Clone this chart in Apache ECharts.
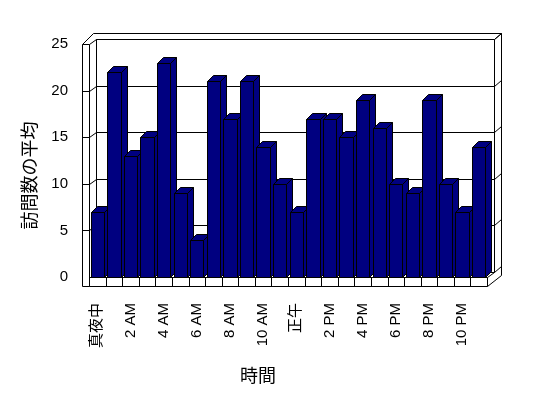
<!DOCTYPE html>
<html>
<head>
<meta charset="utf-8">
<script src="https://cdn.jsdelivr.net/npm/echarts@6/dist/echarts.min.js"></script>
<style>
  html, body { margin: 0; padding: 0; background: #fff; }
  #chart { width: 548px; height: 398px; }
</style>
</head>
<body>
<div id="chart"></div>
<script>
// data
const hours = ['真夜中', '1 AM', '2 AM', '3 AM', '4 AM', '5 AM', '6 AM', '7 AM', '8 AM', '9 AM', '10 AM', '11 AM',
  '正午', '1 PM', '2 PM', '3 PM', '4 PM', '5 PM', '6 PM', '7 PM', '8 PM', '9 PM', '10 PM', '11 PM'];
const visits = [7, 22, 13, 15, 23, 9, 4, 21, 17, 21, 14, 10, 7, 17, 17, 15, 19, 16, 10, 9, 19, 10, 7, 14];
const yTicks = [0, 5, 10, 15, 20, 25];

const FONT = '"Liberation Sans", "Noto Sans CJK JP", sans-serif';
const DX = 7, DY = -5;      // depth of the box (front -> back wall)
const BAR_D = 6;            // depth of each column
const WALL = 7, FLOOR = 9;  // thickness of side wall / floor slab

const chart = echarts.init(document.getElementById('chart'));

function px(v) { return Math.round(v) + 0.5; }
function line(x1, y1, x2, y2) {
  return { type: 'line', shape: { x1: px(x1), y1: px(y1), x2: px(x2), y2: px(y2) },
    style: { stroke: '#000', lineWidth: 1 } };
}
function poly(pts, fill) {
  return { type: 'polygon', shape: { points: pts.map(p => [px(p[0]), px(p[1])]) },
    style: { fill: fill || 'none', stroke: '#000', lineWidth: 1 } };
}

// walls, floor and gridlines
function renderFrame(params, api) {
  const cs = params.coordSys;
  const L = cs.x, T = cs.y, R = cs.x + cs.width, B = cs.y + cs.height;
  const band = api.size([1, 0])[0];
  const kids = [];
  // back wall
  kids.push(poly([[L + DX, T + DY], [R + DX, T + DY], [R + DX, B + DY], [L + DX, B + DY]], '#fff'));
  yTicks.forEach(v => {
    const y = api.coord([0, v])[1];
    if (v > 0 && v < 25) kids.push(line(L + DX, y + DY, R + DX, y + DY));
    kids.push(line(R + DX, y + DY, R + DX + 7, y + DY - 6));
    if (v > 0 && v < 25) {
      kids.push(line(L - WALL, y, L, y));
      kids.push(line(L, y, L + DX, y + DY));
    }
  });
  // outer edge of back wall
  kids.push({ type: 'polyline', shape: { points: [[L - WALL, T], [L + DX - 3, T + DY - 6], [R + DX + 7, T + DY - 6],
    [R + DX + 7, B + DY + 3], [R, B + FLOOR]].map(p => [px(p[0]), px(p[1])]) },
    style: { fill: 'none', stroke: '#000', lineWidth: 1 } });
  kids.push(line(R + DX, T + DY, R + DX + 7, T + DY - 6));
  // left wall
  kids.push(poly([[L - WALL, T], [L, T], [L, B + FLOOR], [L - WALL, B + FLOOR]]));
  kids.push(line(L, T, L + DX, T + DY));
  kids.push(line(L + DX, T + DY, L + DX, B + DY));
  // floor
  kids.push(poly([[L, B], [R, B], [R, B + FLOOR], [L, B + FLOOR]]));
  kids.push(line(R, B, R + DX, B + DY));
  for (let k = 1; k < hours.length; k++) {
    const x = api.coord([k, 0])[0] - band / 2;
    kids.push(line(x, B, x, B + FLOOR));
  }
  return { type: 'group', children: kids };
}

// 3D-looking columns
function renderBar(params, api) {
  const i = api.value(0), v = api.value(1);
  const top = api.coord([i, v]), base = api.coord([i, 0]);
  const half = api.size([1, 0])[0] * 0.4;
  const x0 = top[0] - half, x1 = top[0] + half, y0 = top[1], y1 = base[1];
  const d = BAR_D, fill = '#000080';
  return { type: 'group', children: [
    poly([[x1, y0], [x1 + d, y0 - d], [x1 + d, y1 - d], [x1, y1]], fill),
    poly([[x0, y0], [x0 + d, y0 - d], [x1 + d, y0 - d], [x1, y0]], fill),
    poly([[x0, y0], [x1, y0], [x1, y1], [x0, y1]], fill)
  ] };
}

const option = {
  backgroundColor: '#fff',
  animation: false,
  grid: { left: 89, right: 61, top: 44, bottom: 121 },
  xAxis: {
    type: 'category',
    data: hours,
    axisLine: { show: false },
    axisTick: { show: false },
    splitLine: { show: false },
    axisLabel: { interval: 1, rotate: 90, margin: 26, fontSize: 15, color: '#000', fontFamily: FONT },
    name: '時間',
    nameLocation: 'middle',
    nameGap: 91,
    nameTextStyle: { fontSize: 18, color: '#000', fontFamily: FONT, padding: [0, 60, 0, 0] }
  },
  yAxis: {
    type: 'value',
    min: 0,
    max: 25,
    interval: 5,
    axisLine: { show: false },
    axisTick: { show: false },
    splitLine: { show: false },
    axisLabel: { margin: 21, fontSize: 15, color: '#000', fontFamily: FONT },
    name: '訪問数の平均',
    nameLocation: 'middle',
    nameGap: 48,
    nameTextStyle: { fontSize: 18, color: '#000', fontFamily: FONT, padding: [0, 30, 0, 0] }
  },
  series: [
    {
      type: 'custom',
      z: 1,
      silent: true,
      clip: false,
      renderItem: renderFrame,
      data: [[0, 0]]
    },
    {
      type: 'custom',
      name: '訪問数の平均',
      z: 2,
      clip: false,
      renderItem: renderBar,
      encode: { x: 0, y: 1 },
      data: visits.map((v, i) => [i, v])
    }
  ]
};

chart.setOption(option);
</script>
</body>
</html>
